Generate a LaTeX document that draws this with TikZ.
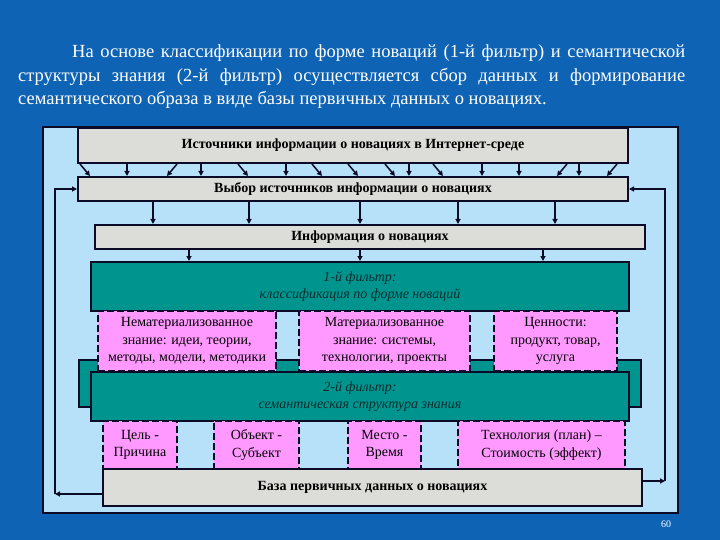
\documentclass[tikz,border=0pt]{standalone}
\usepackage{fontspec}
\setmainfont{Liberation Serif}
\usepackage{xcolor}
\usetikzlibrary{arrows.meta,positioning}
\definecolor{bgblue}{HTML}{0F63B5}
\definecolor{panelblue}{HTML}{B7E1F9}
\definecolor{boxgray}{HTML}{DCDCD8}
\definecolor{filterteal}{HTML}{00948F}
\definecolor{softpink}{HTML}{FF99FF}
\definecolor{ink}{HTML}{0B0B28}
\definecolor{tealtext}{HTML}{0E2C2C}
\tikzset{
  graybox/.style={draw=ink, line width=2pt, fill=boxgray, align=center, inner sep=2pt, minimum width=550pt, minimum height=24pt, font=\fontsize{14}{16}\selectfont\bfseries},
  filterbox/.style={draw=ink, line width=2pt, fill=filterteal, align=center, text=tealtext, inner sep=2pt, minimum width=538pt, minimum height=49pt, font=\fontsize{14}{17.5}\selectfont\itshape},
  pinkbox/.style={draw=ink, line width=1.6pt, dash pattern=on 7pt off 3pt, fill=softpink, align=center, inner sep=2pt, font=\fontsize{14}{17.5}\selectfont},
  arrow/.style={-{Triangle[length=5pt,width=5pt]}, line width=1.5pt, draw=ink}
}

\begin{document}
\begin{tikzpicture}[x=1pt, y=-1pt]
  \fill[bgblue] (0,0) rectangle (720,540);
  \useasboundingbox (0,0) rectangle (720,540);
  \node[anchor=north west, text width=667pt, align=justify, text=white, inner sep=0pt, font=\fontsize{18.5}{23.5}\selectfont] (intro) at (18,44.5) {\hspace*{54pt}На основе классификации по форме новаций (1-й фильтр) и семантической\linebreak структуры знания (2-й фильтр) осуществляется сбор данных и формирование\linebreak семантического образа в виде базы первичных данных о новациях.};

  \node[draw=ink, line width=2pt, fill=panelblue, minimum width=635pt, minimum height=386pt] (panel) at (360.5,320) {};
  \node[text=white, font=\fontsize{10}{11}\selectfont, inner sep=0pt] (pagenum) at (666,524) {60};

  \node[graybox, minimum height=35pt] (src) at (353,145.5) {Источники информации о новациях в Интернет-среде};
  \node[graybox] (sel) at (353,189) {Выбор источников информации о новациях};
  \node[graybox] (info) at (370,237) {Информация о новациях};
  \node[filterbox] (filt1) at (360,286.5) {1-й фильтр:\\классификация по форме новаций};
  \node[draw=ink, line width=2pt, fill=filterteal, minimum width=562pt, minimum height=47pt] (back) at (360,383.5) {};
  \node[pinkbox, minimum width=178pt, minimum height=60pt] (ideal) at (187,341) {Нематериализованное\\знание: идеи, теории,\\методы, модели, методики};
  \node[pinkbox, minimum width=171pt, minimum height=60pt] (material) at (384.5,341) {Материализованное\\знание: системы,\\технологии, проекты};
  \node[pinkbox, minimum width=123pt, minimum height=60pt] (values) at (555.5,341) {Ценности:\\продукт, товар,\\услуга};
  \node[filterbox] (filt2) at (360,396.5) {2-й фильтр:\\семантическая структура знания};
  \node[pinkbox, minimum width=74pt, minimum height=48pt] (goal) at (140,445) {Цель -\\Причина};
  \node[pinkbox, minimum width=85pt, minimum height=48pt] (object) at (256.5,445) {Объект -\\Субъект};
  \node[pinkbox, minimum width=73pt, minimum height=48pt] (place) at (384.5,445) {Место -\\Время};
  \node[pinkbox, minimum width=167pt, minimum height=48pt] (tech) at (541.5,445) {Технология (план) –\\Стоимость (эффект)};
  \node[graybox, minimum width=539pt, minimum height=37pt] (base) at (372.5,487.5) {База первичных данных о новациях};

  \coordinate (lc) at (55,494);
  \coordinate (rc) at (665,481);

  \foreach \x/\d in {80/10,127/0,177/-10,201/0,238/10,286/0,312/10,348/10,385/10,409/0,433/10,482/0,519/0,567/-10,579/0,617/-10}
    \draw[arrow] (\x,0 |- src.south) -- (\x+\d,0 |- sel.north);
  \foreach \x in {153,249,360,458,555}
    \draw[arrow] (\x,0 |- sel.south) -- (\x,0 |- info.north);
  \foreach \x in {189,360,543}
    \draw[arrow] (\x,0 |- info.south) -- (\x,0 |- filt1.north);

  \draw[arrow] ([yshift=-6.5pt]base.west) -- (lc);
  \draw[arrow] (lc) |- (sel.west);
  \draw[arrow] ([yshift=6.5pt]base.east) -- (rc);
  \draw[arrow] (rc) |- (sel.east);
\end{tikzpicture}
\end{document}
